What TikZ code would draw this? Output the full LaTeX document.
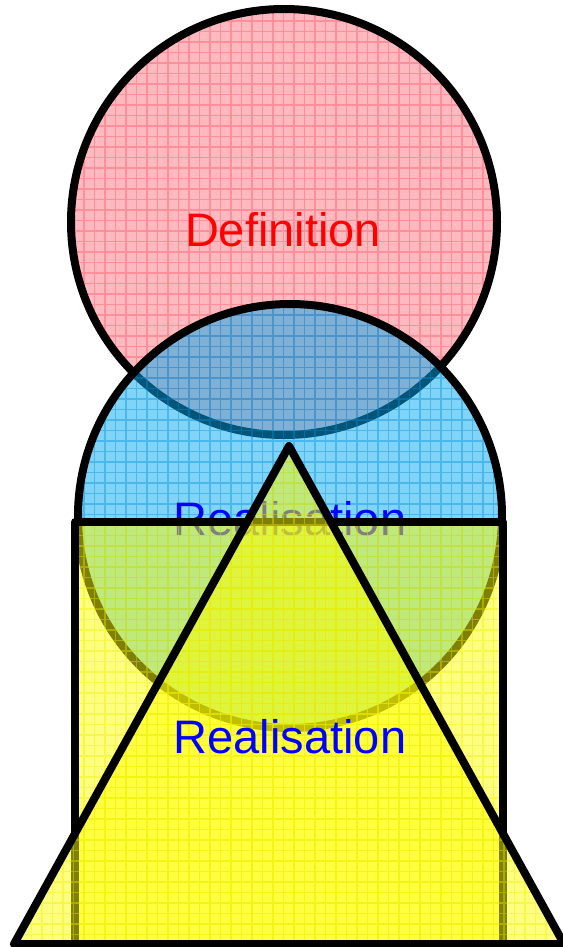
\documentclass[tikz,border=0pt]{standalone}
\usepackage{fontspec}
\setmainfont{Liberation Sans}
\begin{document}
\begin{tikzpicture}[x=1pt,y=-1pt,
  outline/.style={draw=black,line width=8pt,line join=round},
  lbl/.style={font=\fontsize{47}{56}\selectfont,inner sep=0pt},
  gridline/.style={line width=1.3pt,opacity=0.4}]
\useasboundingbox (0,0) rectangle (562,947);
\fill[white] (0,0) rectangle (562,947);
\definecolor{pinkfill}{RGB}{255,100,115}
\definecolor{pinkgrid}{RGB}{255,80,100}
\definecolor{bluefill}{RGB}{0,170,240}
\definecolor{bluegrid}{RGB}{0,140,215}
\definecolor{yelfill}{RGB}{255,255,0}
\definecolor{yelgrid}{RGB}{235,235,0}
% Definition circle
\coordinate (cdef) at (284,222);
\fill[pinkfill,fill opacity=0.45] (cdef) circle[radius=213pt];
\begin{scope}
  \clip (cdef) circle[radius=213pt];
  \draw[pinkgrid,gridline,step=10.5pt] (60,0) grid (510,450);
\end{scope}
\draw[outline] (cdef) circle[radius=213pt];
\node[lbl,text=red] (def) at (283,230) {Definition};
% Realisation circle
\coordinate (creal) at (290,516);
\fill[bluefill,fill opacity=0.5] (creal) circle[radius=212pt];
\begin{scope}
  \clip (creal) circle[radius=212pt];
  \draw[bluegrid,gridline,step=10.5pt] (70,300) grid (510,740);
\end{scope}
\draw[outline] (creal) circle[radius=212pt];
\node[lbl,text=blue] (real1) at (290,519) {Realisation};
% rectangle
\coordinate (r1) at (75,522);
\coordinate (r2) at (503,944);
\fill[yelfill,fill opacity=0.5] (r1) rectangle (r2);
\begin{scope}
  \clip (r1) rectangle (r2);
  \draw[yelgrid,gridline,step=10.5pt] (70,520) grid (510,950);
\end{scope}
\draw[outline] (r1) rectangle (r2);
% triangle
\coordinate (tA) at (289,446);
\coordinate (tB) at (14,944);
\coordinate (tC) at (564,944);
\fill[yelfill,fill opacity=0.5] (tA) -- (tB) -- (tC) -- cycle;
\begin{scope}
  \clip (tA) -- (tB) -- (tC) -- cycle;
  \draw[yelgrid,gridline,step=10.5pt] (0,440) grid (570,950);
\end{scope}
\draw[outline] (tA) -- (tB) -- (tC) -- cycle;
\node[lbl,text=blue] (real2) at (290,737) {Realisation};
\end{tikzpicture}
\end{document}
